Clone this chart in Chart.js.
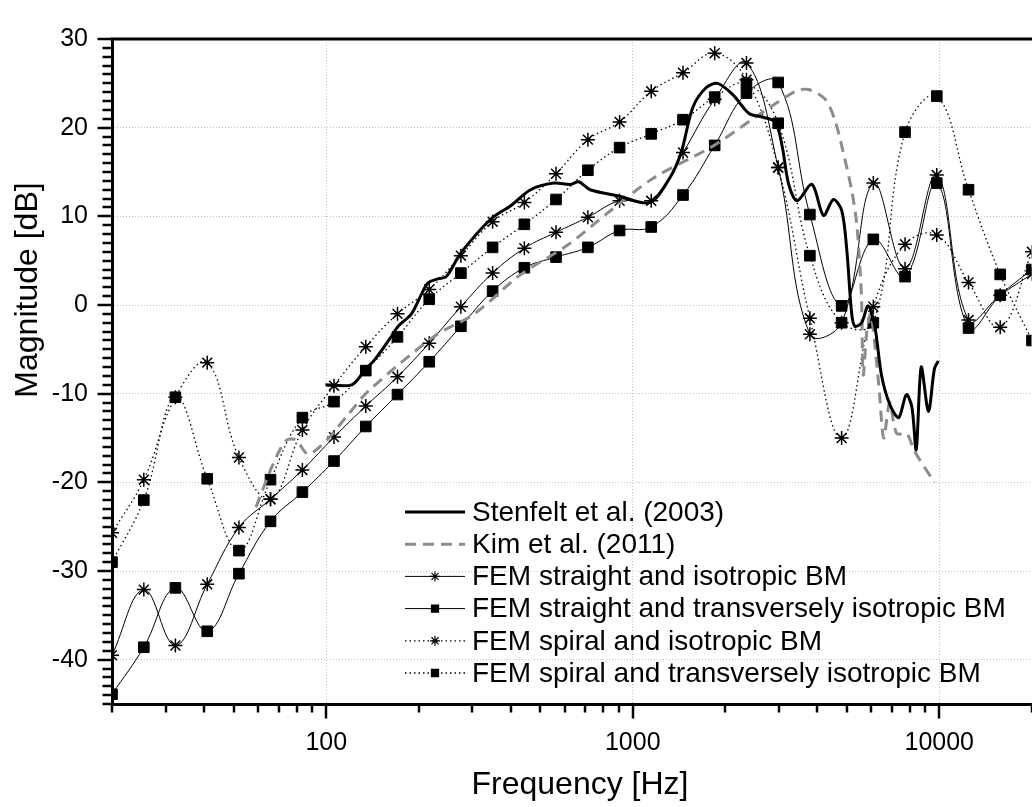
<!DOCTYPE html>
<html>
<head>
<meta charset="utf-8">
<script src="https://cdn.jsdelivr.net/npm/chart.js@4.4.0/dist/chart.umd.min.js"></script>
<style>
  html, body { margin: 0; padding: 0; background: #fff; overflow: hidden; }
  #wrap { width: 1040px; height: 807px; }
</style>
</head>
<body>
<div id="wrap"><canvas id="chart" width="1040" height="807"></canvas></div>
<script>
// FEM frequencies (Hz)
const femFreq = [20, 25.4, 32.2, 40.9, 51.9, 65.8, 83.6, 106, 134.6, 170.8, 216.8, 275, 349, 443, 562,
  714, 906, 1149, 1459, 1851, 2350, 2982, 3784, 4803, 6095, 7735, 9817, 12460, 15810, 20070];

const straightIso = [-39.5, -32.1, -38.4, -31.5, -25.1, -21.9, -18.6, -14.9, -11.4, -8.1, -4.3, -0.2, 3.6, 6.4, 8.2,
  9.9, 11.75, 11.75, 17.2, 23.2, 27.3, 15.5, -3.3, -2.0, 13.75, 4.1, 14.65, -1.7, 1.1, 3.5];
const straightTrans = [-43.9, -38.6, -31.9, -36.8, -30.3, -24.4, -21.1, -17.6, -13.7, -10.1, -6.4, -2.4, 1.56, 4.2, 5.4,
  6.5, 8.4, 8.8, 12.4, 18.0, 23.9, 25.1, 10.2, -0.1, 7.4, 3.2, 13.75, -2.6, 1.1, 4.0];
const spiralIso = [-25.7, -19.7, -10.4, -6.5, -17.2, -21.9, -14.1, -9.1, -4.7, -1.0, 1.75, 5.56, 9.4, 11.56, 14.8,
  18.65, 20.65, 24.1, 26.2, 28.4, 25.4, 15.5, -1.5, -15.0, -0.2, 6.84, 7.9, 2.55, -2.5, 6.0];
const spiralTrans = [-29.0, -22.0, -10.4, -19.6, -27.7, -19.7, -12.7, -10.9, -7.4, -3.6, 0.66, 3.6, 6.5, 9.1, 11.9,
  15.2, 17.75, 19.3, 20.9, 23.45, 25.0, 20.5, 5.56, -2.0, -2.0, 19.5, 23.56, 13.0, 3.45, -4.0];

// Stenfelt et al. (2003)
const stenfeltFreq = [99.4, 121.2, 134, 144.4, 163.4, 171.7, 189.7, 204.4, 214.8, 231.5, 246.3, 275.4, 344.5, 399.9,
  464.2, 552.7, 625.5, 666.1, 726.3, 897.9, 1136, 1319, 1439, 1571, 1734, 1892, 2117, 2395, 2648, 2923, 3073, 3228,
  3438, 3844, 4191, 4515, 4808, 4991, 5181, 5309, 5582, 5863, 6163, 6479, 6893, 7373, 7808, 8142, 8413, 8733, 9222,
  9643, 9936];
const stenfeltDb = [-9.0, -9.0, -7.3, -6.1, -3.5, -2.4, -1.0, 1.2, 2.5, 2.95, 3.2, 5.9, 9.7, 11.2,
  13.0, 13.75, 13.6, 13.9, 13.0, 12.3, 11.55, 14.3, 17.2, 22.3, 24.5, 25.0, 23.75, 21.6, 21.2, 20.6, 17.9, 13.6,
  11.75, 13.6, 10.1, 11.9, 10.65, 6.3, -1.0, -2.4, -2.0, -0.1, -2.4, -7.9, -11.2, -12.7, -10.1, -11.5, -16.3, -7.0, -12.0,
  -7.2, -6.3];

// Kim et al. (2011)
const kimFreq = [59, 66.8, 73.8, 79.5, 86.7, 92.3, 101.9, 118.3, 137.3, 225.9, 304.3, 430, 610, 823, 1166, 1823,
  2518, 3394, 3748, 4246, 4571, 4864, 5182, 5378, 5512, 5582, 5649, 5805, 5981, 6350, 6592, 6893, 7265, 7830, 8308, 9643];
const kimDb = [-22.8, -18.1, -15.3, -15.2, -16.8, -16.4, -15.0, -12.3, -9.7, -3.5, -1.0, 3.4, 6.7, 10.3, 14.3, 17.9,
  21.2, 24.1, 24.3, 23.2, 20.8, 17.2, 12.9, 9.2, 4.1, 0.5, -7.9, -3.0, -1.0, -9.0, -15.0, -11.0, -14.5, -14.5, -16.5, -20.0];

const xMajor = [100, 1000, 10000];
const yMajor = [-40, -30, -20, -10, 0, 10, 20, 30];

const FONT = '"Liberation Sans", Arial, sans-serif';

function pts(xs, ys) { return xs.map((x, i) => ({ x: x, y: ys[i] })); }

const legendRows = [
  { label: 'Stenfelt et al. (2003)', ds: 0 },
  { label: 'Kim et al. (2011)', ds: 1 },
  { label: 'FEM straight and isotropic BM', ds: 2 },
  { label: 'FEM straight and transversely isotropic BM', ds: 3 },
  { label: 'FEM spiral and isotropic BM', ds: 4 },
  { label: 'FEM spiral and transversely isotropic BM', ds: 5 }
];

const decor = {
  id: 'decor',
  afterDatasetsDraw(chart) {
    const ctx = chart.ctx;
    const a = chart.chartArea;
    const xs = chart.scales.x, ys = chart.scales.y;
    ctx.save();
    ctx.strokeStyle = '#000';
    ctx.setLineDash([]);
    // top frame
    ctx.lineWidth = 3;
    ctx.beginPath(); ctx.moveTo(a.left - 1.5, a.top); ctx.lineTo(a.right + 5, a.top); ctx.stroke();
    // y ticks
    ctx.lineWidth = 2.5;
    for (let v = -45; v <= 30; v++) {
      const y = Math.round(ys.getPixelForValue(v));
      const len = v % 10 === 0 ? 13 : 8;
      ctx.beginPath(); ctx.moveTo(a.left - 1.5 - len, y); ctx.lineTo(a.left, y); ctx.stroke();
    }
    // x ticks (log)
    for (let dec = 10; dec <= 10000; dec *= 10) {
      for (let k = 1; k <= 9; k++) {
        const f = dec * k;
        if (f < 20 || f > 20000) continue;
        const x = Math.round(xs.getPixelForValue(f));
        const len = k === 1 ? 13 : 7;
        ctx.beginPath(); ctx.moveTo(x, a.bottom); ctx.lineTo(x, a.bottom + 1.5 + len); ctx.stroke();
      }
    }
    // axis titles
    ctx.fillStyle = '#000';
    ctx.font = '32px ' + FONT;
    ctx.textAlign = 'center';
    ctx.textBaseline = 'middle';
    ctx.fillText('Frequency [Hz]', 580, 785);
    ctx.save();
    ctx.translate(28, 290);
    ctx.rotate(-Math.PI / 2);
    ctx.fillText('Magnitude [dB]', 0, 0);
    ctx.restore();

    // legend
    const x0 = 405, x1 = 465, tx = 472, y0 = 512, dy = 32.2;
    ctx.font = '28px ' + FONT;
    ctx.textAlign = 'left';
    legendRows.forEach((r, i) => {
      const d = chart.data.datasets[r.ds];
      const y = y0 + i * dy;
      ctx.save();
      ctx.strokeStyle = d.borderColor;
      ctx.lineWidth = d.borderWidth;
      ctx.setLineDash(d.borderDash || []);
      ctx.beginPath(); ctx.moveTo(x0, y); ctx.lineTo(x1, y); ctx.stroke();
      ctx.restore();
      if (d.pointRadius > 0) {
        ctx.save();
        ctx.strokeStyle = '#000';
        ctx.fillStyle = '#000';
        ctx.lineWidth = 1.2;
        Chart.helpers.drawPoint(ctx, {
          pointStyle: d.pointStyle, rotation: 0, radius: 5, borderWidth: 1.2
        }, (x0 + x1) / 2, y);
        ctx.restore();
      }
      ctx.fillStyle = '#000';
      ctx.fillText(r.label, tx, y + 1);
    });
    ctx.restore();
  }
};

const common = { tension: 0.4, fill: false, borderColor: '#000', pointBorderColor: '#000', pointBackgroundColor: '#000' };

new Chart(document.getElementById('chart'), {
  type: 'line',
  data: {
    datasets: [
      Object.assign({}, common, { label: 'Stenfelt et al. (2003)', data: pts(stenfeltFreq, stenfeltDb),
        borderWidth: 3, pointRadius: 0, tension: 0.3 }),
      Object.assign({}, common, { label: 'Kim et al. (2011)', data: pts(kimFreq, kimDb),
        borderColor: '#8c8c8c', borderWidth: 3, borderDash: [11, 7], pointRadius: 0, tension: 0.3 }),
      Object.assign({}, common, { label: 'FEM straight and isotropic BM', data: pts(femFreq, straightIso),
        borderWidth: 1, pointStyle: 'star', pointRadius: 7, pointBorderWidth: 1.5 }),
      Object.assign({}, common, { label: 'FEM straight and transversely isotropic BM', data: pts(femFreq, straightTrans),
        borderWidth: 1, pointStyle: 'rect', pointRadius: 7.5, pointBorderWidth: 1 }),
      Object.assign({}, common, { label: 'FEM spiral and isotropic BM', data: pts(femFreq, spiralIso),
        borderWidth: 1.3, borderDash: [1.5, 3], pointStyle: 'star', pointRadius: 7, pointBorderWidth: 1.5 }),
      Object.assign({}, common, { label: 'FEM spiral and transversely isotropic BM', data: pts(femFreq, spiralTrans),
        borderWidth: 1.3, borderDash: [1.5, 3], pointStyle: 'rect', pointRadius: 7.5, pointBorderWidth: 1 })
    ]
  },
  options: {
    responsive: false,
    animation: false,
    devicePixelRatio: 1,
    layout: { padding: { top: 16, right: 3, left: 0, bottom: 0 } },
    plugins: { legend: { display: false }, tooltip: { enabled: false } },
    scales: {
      x: {
        type: 'logarithmic', min: 20, max: 20000, position: 'bottom',
        afterBuildTicks: s => { s.ticks = xMajor.map(v => ({ value: v })); },
        afterFit: s => { s.height = 103; },
        ticks: { font: { size: 25, family: FONT }, color: '#000', padding: 24, maxRotation: 0,
          callback: v => String(v) },
        grid: { color: '#c4c4c4', lineWidth: 1, drawTicks: false },
        border: { display: true, color: '#000', width: 3, dash: [1, 2] }
      },
      y: {
        min: -45, max: 30,
        afterBuildTicks: s => { s.ticks = yMajor.map(v => ({ value: v })); },
        afterFit: s => { s.width = 112; },
        ticks: { font: { size: 25, family: FONT }, color: '#000', padding: 24 },
        grid: { color: '#c4c4c4', lineWidth: 1, drawTicks: false },
        border: { display: true, color: '#000', width: 3, dash: [1, 2] }
      }
    }
  },
  plugins: [decor]
});
</script>
</body>
</html>
